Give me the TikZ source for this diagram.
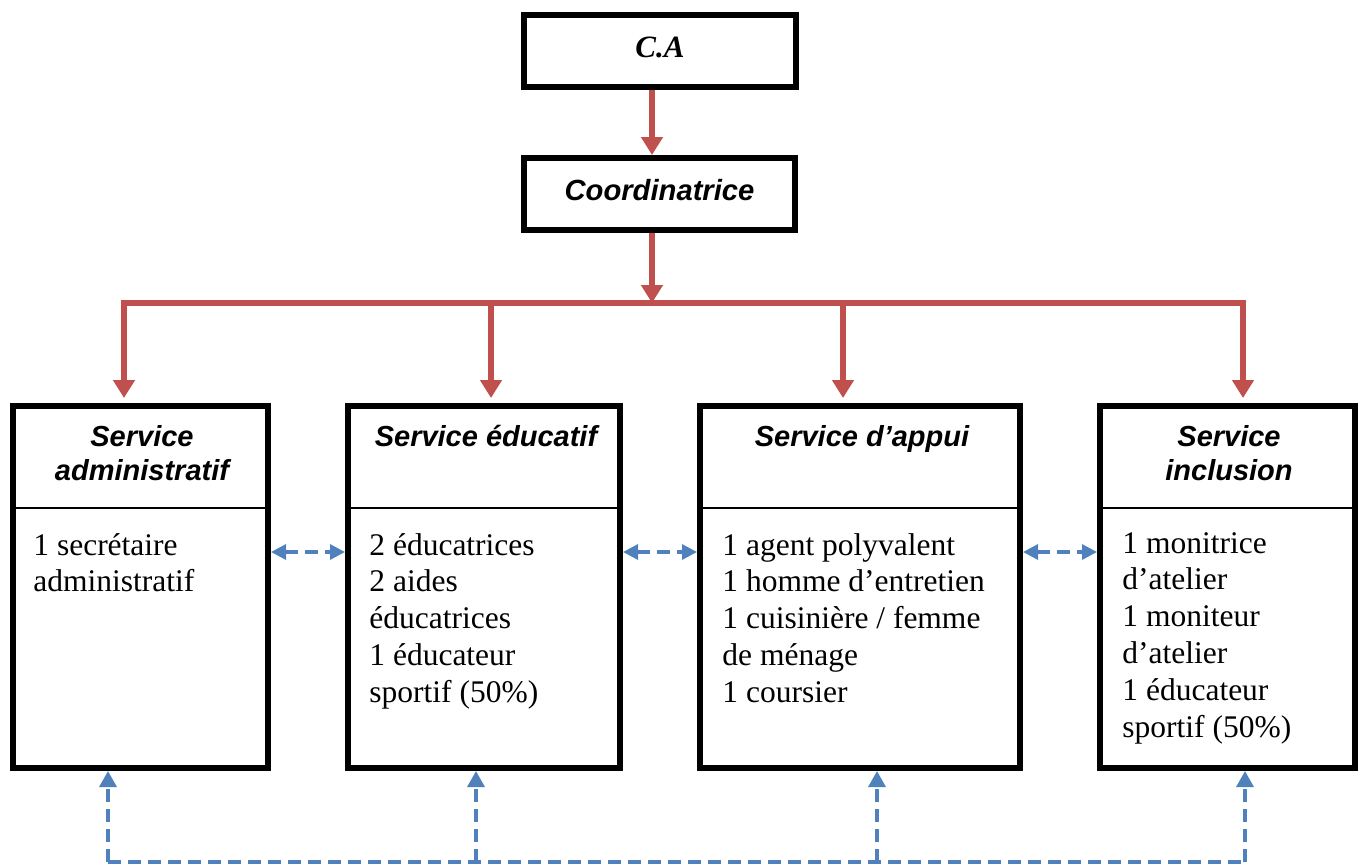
\documentclass[tikz,border=0pt]{standalone}
\usepackage{fontspec}
\setmainfont{Liberation Serif}
\newfontfamily\arialf{Liberation Sans}
\usetikzlibrary{arrows.meta}
\definecolor{redc}{RGB}{192,80,77}
\definecolor{bluec}{RGB}{79,129,189}
\begin{document}
\begin{tikzpicture}[x=0.5pt,y=-0.5pt,
  boxstyle/.style={draw=black, line width=3pt, inner sep=0pt, rectangle},
  topbox/.style={boxstyle, minimum height=36pt, text height=6pt, text depth=0pt},
  servbox/.style={boxstyle, minimum height=181pt},
  titlestyle/.style={font=\arialf\bfseries\itshape\fontsize{14.5}{17}\selectfont, align=center, anchor=north, inner sep=0pt},
  bodystyle/.style={font=\fontsize{15.75}{18.4}\selectfont, align=left, anchor=north west, inner sep=0pt},
  divider/.style={draw=black, line width=1pt},
  redline/.style={draw=redc, line width=3pt},
  redarrow/.style={redline, -{Triangle[length=9pt,width=10.5pt]}},
  bluedash/.style={draw=bluec, line width=1.6pt, dash pattern=on 6.5pt off 3.5pt},
  bluearrow/.style={bluedash, -{Triangle[length=8pt,width=8.5pt]}},
  bluedouble/.style={bluedash, {Triangle[length=7.5pt,width=7.5pt]}-{Triangle[length=7.5pt,width=7.5pt]}}
]
\useasboundingbox (0,0) rectangle (1364,864);

% top boxes
\node[topbox, minimum width=136pt, font=\bfseries\itshape\fontsize{15.5}{18}\selectfont] (ca) at (660,51) {C.A};
\node[topbox, minimum width=135.5pt, font=\arialf\bfseries\itshape\fontsize{14.6}{17}\selectfont] (coord) at (659.5,194) {Coordinatrice};

% service boxes
\node[servbox, minimum width=127.5pt] (box1) at (140.5,587) {};
\node[servbox, minimum width=136pt] (box2) at (484,587) {};
\node[servbox, minimum width=160pt] (box3) at (860,587) {};
\node[servbox, minimum width=127.5pt] (box4) at (1227.5,587) {};

% dividers
\coordinate (dv) at (0,508);
\foreach \b in {box1,box2,box3,box4}{
  \draw[divider] (\b.west |- dv) -- (\b.east |- dv);
}

% titles
\node[titlestyle] (t1) at (142,422) {\strut Service\\administratif};
\node[titlestyle] (t2) at (486,422) {\strut Service éducatif};
\node[titlestyle] (t3) at (862,422) {\strut Service d’appui};
\node[titlestyle] (t4) at (1229,422) {\strut Service\\inclusion};

% bodies
\node[bodystyle] (c1) at (33,529) {\strut 1 secrétaire\\administratif};
\node[bodystyle] (c2) at (369,529) {\strut 2 éducatrices\\2 aides\\éducatrices\\1 éducateur\\sportif (50\%)};
\node[bodystyle] (c3) at (722,529) {\strut 1 agent polyvalent\\1 homme d’entretien\\1 cuisinière / femme\\de ménage\\1 coursier};
\node[bodystyle] (c4) at (1122,527) {\strut 1 monitrice\\d’atelier\\1 moniteur\\d’atelier\\1 éducateur\\sportif (50\%)};

% red connectors
\coordinate (bar) at (652,303);
\coordinate (r1) at (124,303);
\coordinate (r2) at (491,303);
\coordinate (r3) at (843,303);
\coordinate (r4) at (1243,303);
\draw[redarrow] (bar |- ca.south) -- (bar |- coord.north);
\draw[redarrow] (bar |- coord.south) -- (bar);
\draw[redline, line cap=rect] (r1) -- (r4);
\draw[redarrow, shorten >=2.5pt] (r1) -- (r1 |- box1.north);
\draw[redarrow, shorten >=2.5pt] (r2) -- (r2 |- box2.north);
\draw[redarrow, shorten >=2.5pt] (r3) -- (r3 |- box3.north);
\draw[redarrow, shorten >=2.5pt] (r4) -- (r4 |- box4.north);

% blue horizontal double arrows
\coordinate (hy) at (0,552);
\draw[bluedouble] (box1.east |- hy) -- (box2.west |- hy);
\draw[bluedouble] (box2.east |- hy) -- (box3.west |- hy);
\draw[bluedouble] (box3.east |- hy) -- (box4.west |- hy);

% blue bottom connectors
\coordinate (b1) at (108,862);
\coordinate (b2) at (476,862);
\coordinate (b3) at (877,862);
\coordinate (b4) at (1245,862);
\draw[bluedash] (b1) -- (b4);
\draw[bluearrow] (b1) -- (b1 |- box1.south);
\draw[bluearrow] (b2) -- (b2 |- box2.south);
\draw[bluearrow] (b3) -- (b3 |- box3.south);
\draw[bluearrow] (b4) -- (b4 |- box4.south);
\end{tikzpicture}
\end{document}
